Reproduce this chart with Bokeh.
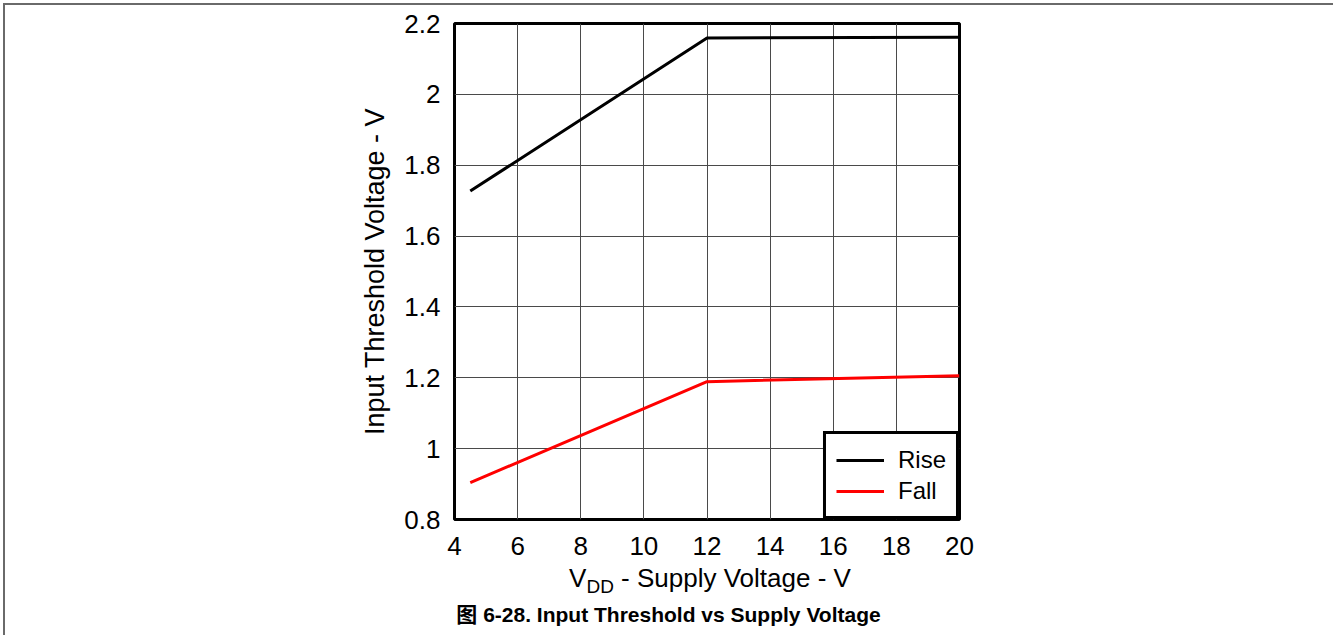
from bokeh.plotting import figure
from bokeh.models import Range1d, FixedTicker, Legend, LegendItem, Div
from bokeh.layouts import column
from bokeh.embed import file_html
from bokeh.resources import INLINE

# ---- data ----
vdd_rise = [4.5, 12, 20]
vth_rise = [1.727, 2.159, 2.161]
vdd_fall = [4.5, 12, 20]
vth_fall = [0.904, 1.189, 1.206]
x_ticks = [4, 6, 8, 10, 12, 14, 16, 18, 20]
y_ticks = [0.8, 1.0, 1.2, 1.4, 1.6, 1.8, 2.0, 2.2]
y_tick_labels = {0.8: "0.8", 1.0: "1", 1.2: "1.2", 1.4: "1.4", 1.6: "1.6",
                 1.8: "1.8", 2.0: "2", 2.2: "2.2"}
series_names = ["Rise", "Fall"]
x_title_main = "V"
x_title_sub = "DD"
x_title_rest = " - Supply Voltage - V"
y_title = "Input Threshold Voltage - V"
caption = "图 6-28. Input Threshold vs Supply Voltage"

FONT = "Liberation Sans"
OFF = 5          # outer border offset (3px margin + 2px border)
W = 1333 - OFF
FIG_BOTTOM = 564  # page y where the figure ends

p = figure(width=W, height=FIG_BOTTOM - OFF, output_backend="svg", toolbar_location=None,
           x_range=Range1d(4, 20), y_range=Range1d(0.8, 2.2),
           min_border_left=454 - OFF, min_border_right=1333 - 959,
           min_border_top=23 - OFF, min_border_bottom=FIG_BOTTOM - 519)

p.outline_line_color = "black"
p.outline_line_width = 3
p.outline_line_alpha = 1.0

p.xaxis.ticker = FixedTicker(ticks=x_ticks)
p.yaxis.ticker = FixedTicker(ticks=y_ticks)
p.yaxis.major_label_overrides = y_tick_labels
for ax in (p.xaxis, p.yaxis):
    ax.axis_line_color = None
    ax.major_tick_line_color = None
    ax.minor_tick_line_color = None
    ax.major_label_text_font = FONT
    ax.major_label_text_font_size = "26px"
    ax.major_label_text_color = "black"
    ax.axis_label_text_font = FONT
    ax.axis_label_text_font_size = "27px"
    ax.axis_label_text_font_style = "normal"
    ax.axis_label_text_color = "black"
p.xaxis.major_label_standoff = 11
p.yaxis.major_label_standoff = 8
p.yaxis.axis_label = y_title
p.yaxis.axis_label_standoff = 11

p.xgrid.ticker = FixedTicker(ticks=x_ticks)
p.ygrid.ticker = FixedTicker(ticks=y_ticks)
for g in (p.xgrid, p.ygrid):
    g.grid_line_color = "#4a4a4a"
    g.grid_line_width = 1
    g.grid_line_alpha = 1.0

r_rise = p.line(vdd_rise, vth_rise, line_color="black", line_width=3)
r_fall = p.line(vdd_fall, vth_fall, line_color="#ff0000", line_width=3)

legend = Legend(items=[LegendItem(label=series_names[0], renderers=[r_rise]),
                       LegendItem(label=series_names[1], renderers=[r_fall])],
                location="bottom_right", margin=0, padding=10, spacing=0,
                glyph_width=48, glyph_height=20, label_height=31, label_standoff=14,
                label_text_font=FONT, label_text_font_size="24px", label_text_color="black",
                border_line_color="black", border_line_width=3, border_line_alpha=1.0,
                background_fill_alpha=1.0, background_fill_color="white")
p.add_layout(legend, "center")

# x-axis title (with subscript) and figure caption, as HTML text below the figure
html = (
    f'<div style="position:relative;width:{W}px;height:{635 - FIG_BOTTOM}px;'
    f'font-family:\'Liberation Sans\',\'Noto Sans CJK SC\',sans-serif;color:black;">'
    f'<div style="position:absolute;left:{710 - OFF - 400}px;width:800px;top:1px;'
    f'text-align:center;font-size:26px;line-height:26px;white-space:nowrap;">'
    f'{x_title_main}<span style="font-size:19px;position:relative;top:6px;">{x_title_sub}</span>'
    f'{x_title_rest}</div>'
    f'<div style="position:absolute;left:0px;width:{W - 1}px;top:40px;text-align:center;'
    f'font-size:21px;line-height:21px;font-weight:bold;white-space:nowrap;">{caption}</div>'
    f'</div>'
)
div = Div(text=html, width=W, height=635 - FIG_BOTTOM, margin=0)

layout = column(p, div, spacing=0,
                styles={"border-top": "2px solid #6a6a6a", "border-left": "2px solid #6a6a6a",
                        "margin-left": "3px", "margin-top": "3px"})

open("out.html", "w").write(file_html(layout, INLINE))
